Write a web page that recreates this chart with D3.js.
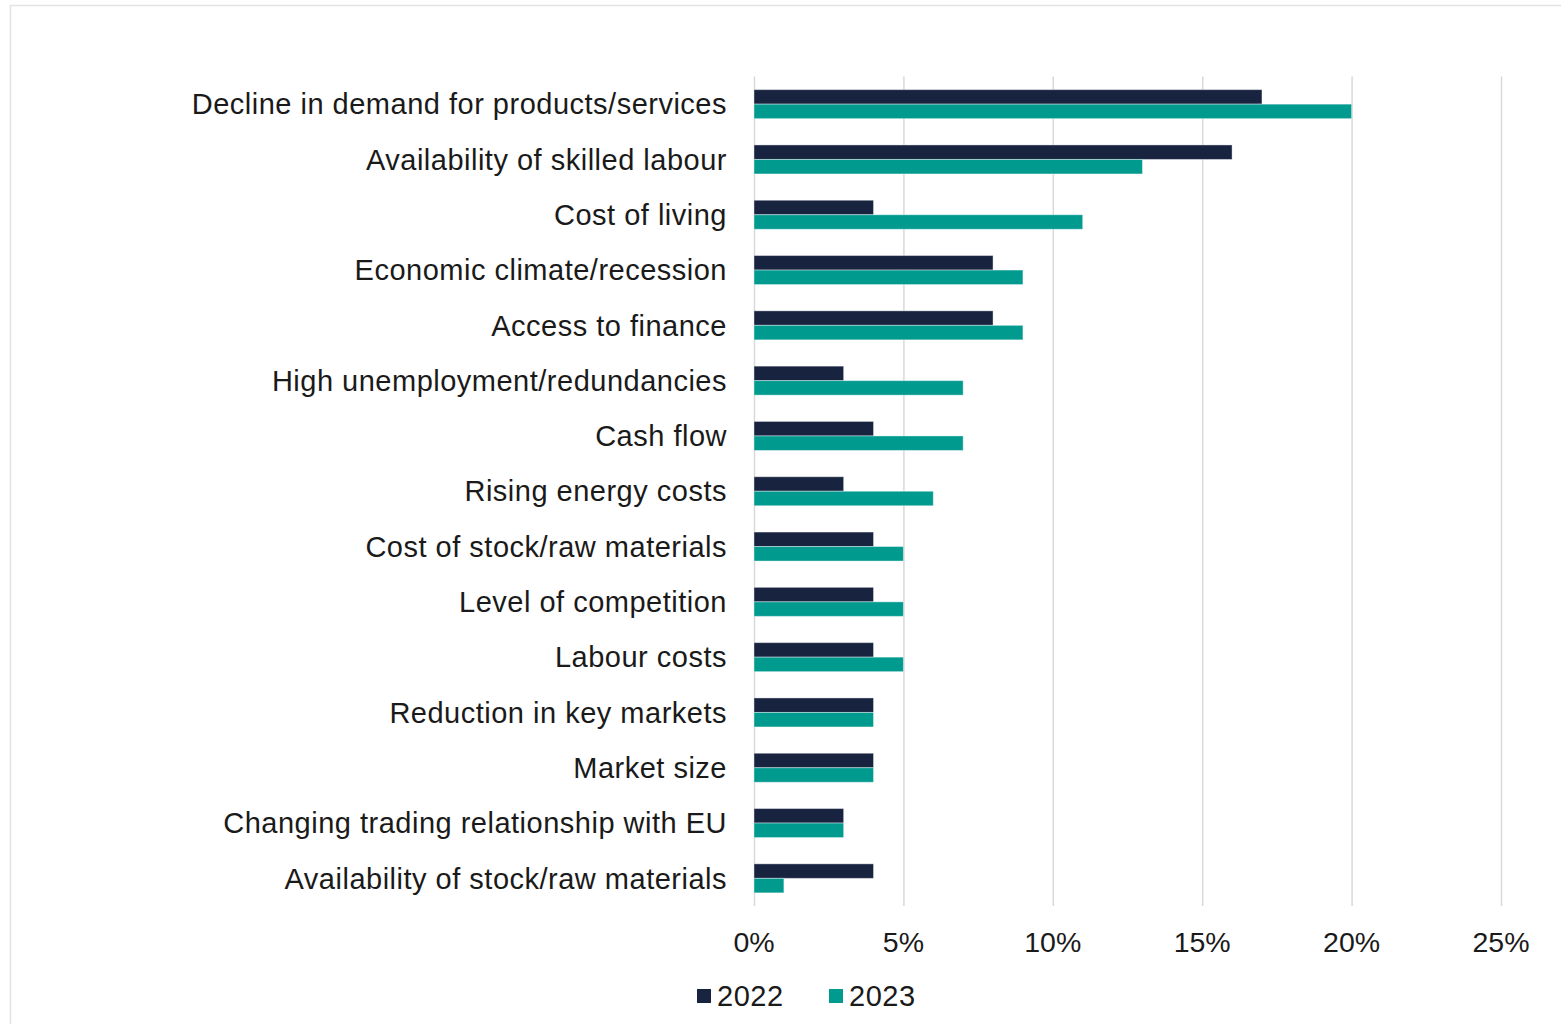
<!DOCTYPE html>
<head>
    <style>
    body { margin: 0; background: #fff; }
    svg { display: block; font-family: "Liberation Sans", Arial, sans-serif; }
    .grid line { stroke: #d9d9d9; stroke-width: 1.5; }
    .grid .domain { display: none; }
    </style>
    <script src="https://d3js.org/d3.v7.min.js"></script>
</head>
<body>
    <svg width="1561" height="1024"></svg>
    <script>

    var categories = [
      "Decline in demand for products/services",
      "Availability of skilled labour",
      "Cost of living",
      "Economic climate/recession",
      "Access to finance",
      "High unemployment/redundancies",
      "Cash flow",
      "Rising energy costs",
      "Cost of stock/raw materials",
      "Level of competition",
      "Labour costs",
      "Reduction in key markets",
      "Market size",
      "Changing trading relationship with EU",
      "Availability of stock/raw materials"
    ];
    var values2022 = [17, 16, 4, 8, 8, 3, 4, 3, 4, 4, 4, 4, 4, 3, 4];
    var values2023 = [20, 13, 11, 9, 9, 7, 7, 6, 5, 5, 5, 4, 4, 3, 1];
    var seriesNames = ["2022", "2023"];
    var xTicks = [0, 5, 10, 15, 20, 25];

    var colors = ["#17233f", "#009a8f"];

    var svg = d3.select("svg");

    // outer frame
    svg.append("path")
        .attr("d", "M10.5,1024 V5.5 H1561")
        .attr("fill", "none")
        .attr("stroke", "#e3e3e3")
        .attr("stroke-width", 1.5);

    var plotLeft = 754, plotRight = 1501, plotTop = 76.5, plotBottom = 906;

    var x = d3.scaleLinear().domain([0, 25]).range([plotLeft, plotRight]);
    var y = d3.scaleBand().domain(categories).range([plotTop, plotBottom]);

    // vertical gridlines
    svg.append("g")
        .attr("class", "grid")
        .attr("transform", "translate(0," + plotBottom + ")")
        .call(d3.axisBottom(x).tickValues(xTicks).tickSize(-(plotBottom - plotTop)).tickFormat(""));

    var barH = 14.5;
    var data = categories.map(function(c, i) {
      return { cat: c, vals: [values2022[i], values2023[i]] };
    });

    var rows = svg.append("g").selectAll("g")
        .data(data)
        .enter().append("g");

    rows.selectAll("rect")
        .data(function(d) { return d.vals.map(function(v, k) { return { cat: d.cat, v: v, k: k }; }); })
        .enter().append("rect")
          .attr("x", x(0))
          .attr("y", function(d) { return y(d.cat) + y.bandwidth() / 2 - barH + d.k * barH; })
          .attr("width", function(d) { return x(d.v) - x(0); })
          .attr("height", barH)
          .attr("fill", function(d) { return colors[d.k]; })
          .attr("stroke", "#ffffff")
          .attr("stroke-opacity", 0.4)
          .attr("stroke-width", 1);

    // category labels
    svg.append("g").selectAll("text")
        .data(categories)
        .enter().append("text")
          .attr("x", 727)
          .attr("y", function(d) { return y(d) + y.bandwidth() / 2; })
          .attr("dy", "0.35em")
          .attr("text-anchor", "end")
          .attr("font-size", 29)
          .attr("letter-spacing", 0.5)
          .attr("fill", "#1a1a1a")
          .text(function(d) { return d; });

    // x tick labels
    svg.append("g").selectAll("text")
        .data(xTicks)
        .enter().append("text")
          .attr("x", function(d) { return x(d); })
          .attr("y", 942)
          .attr("dy", "0.35em")
          .attr("text-anchor", "middle")
          .attr("font-size", 28.5)
          .attr("fill", "#1a1a1a")
          .text(function(d) { return d + "%"; });

    // legend
    var legendX = [697, 829];
    var legend = svg.append("g").selectAll("g")
        .data(seriesNames)
        .enter().append("g")
          .attr("transform", function(d, i) { return "translate(" + legendX[i] + ",996)"; });

    legend.append("rect")
        .attr("x", 0)
        .attr("y", -7)
        .attr("width", 14)
        .attr("height", 14)
        .attr("fill", function(d, i) { return colors[i]; });

    legend.append("text")
        .attr("x", 20)
        .attr("y", 0)
        .attr("dy", "0.35em")
        .attr("font-size", 29)
        .attr("letter-spacing", 0.5)
        .attr("fill", "#1a1a1a")
        .text(function(d) { return d; });

    </script>
</body>
